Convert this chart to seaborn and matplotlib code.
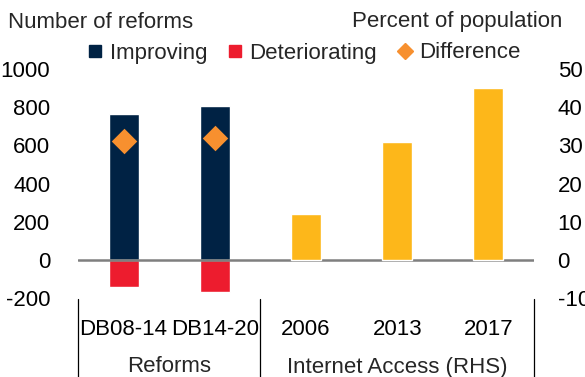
import matplotlib
matplotlib.use("Agg")
import matplotlib.pyplot as plt
import matplotlib.transforms as mtransforms
from matplotlib.lines import Line2D
import seaborn as sns
import pandas as pd

# Categories along the x axis
categories = ["DB08-14", "DB14-20", "2006", "2013", "2017"]
reform_periods = ["DB08-14", "DB14-20"]
internet_years = ["2006", "2013", "2017"]

# Number of business reforms (left axis)
improving = [766, 804]
deteriorating = [-143, -168]
difference = [623, 636]

# Internet access, percent of population (right axis)
internet_access = [12, 31, 45]

# Axis ticks
left_ticks = [-200, 0, 200, 400, 600, 800, 1000]
right_ticks = [-10, 0, 10, 20, 30, 40, 50]

NAVY = "#002244"
RED = "#ED1C2E"
YELLOW = "#FDB71A"
ORANGE = "#F7902F"

sns.set_theme(style="white")
plt.rcParams["font.family"] = ["Liberation Sans", "DejaVu Sans"]
plt.rcParams["axes.unicode_minus"] = False
FS = 16

reforms = pd.DataFrame({
    "period": reform_periods * 2,
    "value": improving + deteriorating,
    "kind": ["Improving"] * 2 + ["Deteriorating"] * 2,
})
diff_df = pd.DataFrame({"period": reform_periods, "value": difference})
net_df = pd.DataFrame({"year": internet_years, "value": internet_access})

fig = plt.figure(figsize=(5.85, 3.77), dpi=100)
ax = fig.add_axes([78 / 585, 1 - 298 / 377, (534 - 78) / 585, (298 - 69) / 377])

for kind, color in [("Improving", NAVY), ("Deteriorating", RED)]:
    sns.barplot(data=reforms[reforms["kind"] == kind], x="period", y="value",
                order=categories, color=color, width=0.33, ax=ax,
                saturation=1, errorbar=None)
sns.stripplot(data=diff_df, x="period", y="value", order=categories,
              jitter=False, marker="D", color=ORANGE, size=13, ax=ax,
              linewidth=0, zorder=5)

ax2 = ax.twinx()
sns.barplot(data=net_df, x="year", y="value", order=categories,
            color=YELLOW, width=0.33, ax=ax2, saturation=1, errorbar=None)

ax.set_ylim(-200, 1000)
ax2.set_ylim(-10, 50)
ax.set_xlim(-0.5, 4.5)
ax.set_yticks(left_ticks)
ax2.set_yticks(right_ticks)
ax.set_xticks(range(len(categories)))
ax.set_xticklabels(categories)
for a in (ax, ax2):
    a.set_xlabel("")
    a.set_ylabel("")
    for s in a.spines.values():
        s.set_visible(False)
    a.grid(False)
ax.tick_params(axis="y", length=0, pad=20, labelsize=FS, colors="black")
ax2.tick_params(axis="y", length=0, pad=17, labelsize=FS, colors="black")
ax.tick_params(axis="x", length=0, pad=15, labelsize=FS, colors="black")
ax2.tick_params(axis="x", length=0, labelbottom=False)

# zero line across the full width
ax.axhline(0, color="#7f7f7f", lw=1.8, zorder=6)

# group separators and group labels below the axis
trans = mtransforms.blended_transform_factory(ax.transData, fig.transFigure)
for xpos in (-0.5, 1.5, 4.5):
    ax.add_line(Line2D([xpos, xpos], [1 - 299 / 377, 0], transform=trans,
                       color="black", lw=0.9, clip_on=False))
ax.text(0.5, 1 - 367 / 377, "Reforms", transform=trans, ha="center",
        va="center", fontsize=FS)
ax.text(3.0, 1 - 367 / 377, "Internet Access (RHS)", transform=trans,
        ha="center", va="center", fontsize=FS)

# axis titles
fig.text(8 / 585, 1 - 22 / 377, "Number of reforms", ha="left", va="center",
         fontsize=FS)
fig.text(562 / 585, 1 - 22 / 377, "Percent of population", ha="right",
         va="center", fontsize=FS)

handles = [
    Line2D([], [], marker="s", ls="", color=NAVY, markersize=9),
    Line2D([], [], marker="s", ls="", color=RED, markersize=9),
    Line2D([], [], marker="D", ls="", color=ORANGE, markersize=8),
]
fig.legend(handles, ["Improving", "Deteriorating", "Difference"], ncol=3,
           loc="center left", bbox_to_anchor=(84 / 585, 1 - 53 / 377),
           frameon=False, fontsize=FS, handletextpad=0.15,
           columnspacing=0.75, handlelength=1.0, borderaxespad=0,
           borderpad=0)

fig.savefig("out.png", dpi=100)
